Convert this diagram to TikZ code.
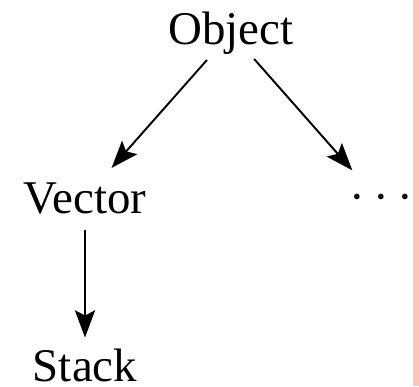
\documentclass[tikz,border=0pt]{standalone}
\usepackage{fontspec}
\setmainfont{Liberation Serif}
\usetikzlibrary{arrows.meta}
\definecolor{stripcolor}{RGB}{252,198,184}

\begin{document}
\begin{tikzpicture}[->,>={Stealth[length=15.5pt,width=11.5pt,inset=3pt]},
                    x=0.02cm,y=-0.02cm,line width=1.1pt,
                    every node/.style={font=\fontsize{26.7}{32}\selectfont,inner sep=0pt}]

  \useasboundingbox (0,0) rectangle (419,386);
  \fill[-,stripcolor] (413,0) rectangle (419,386);

  	\node[anchor=base](O) at (231,44)   	{Object};
  	\node[anchor=base](V) at (85,213)   	{Vector};
	\node[anchor=base](D) at (381,212)   	{·\kern.175em·\kern.175em·};
	\node[anchor=base](S) at (85,381)   	{Stack};

  	\path (O) edge [shorten <=3.8pt,shorten >=10.2pt]	(V);
	\path (O) edge [shorten <=3pt,shorten >=17pt]  	(D);
	\path (V) edge [shorten <=8.5pt,shorten >=5.7pt]  	(S);

\end{tikzpicture}
\end{document}
